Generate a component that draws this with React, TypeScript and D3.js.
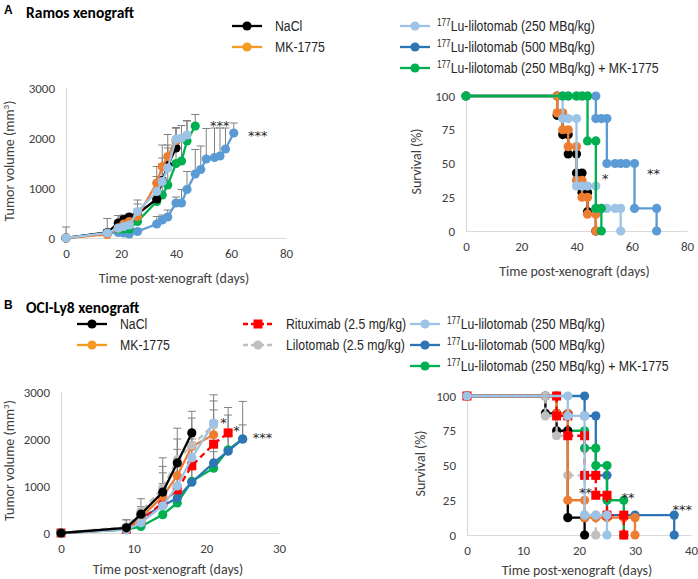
import React, { useEffect, useRef } from 'react';
import * as d3 from 'd3';

// ---- A: Ramos xenograft, tumor volume (mm3) ----
const ramosNaClDays = [0, 15, 19, 21, 23, 26, 33, 35, 37, 40];
const ramosNaCl = [0, 110, 300, 370, 420, 480, 780, 1150, 1450, 1800];
const ramosNaClErr = [220, 280, 150, 90, 60, 200, 450, 450, 620, 400];

const ramosMkDays = [0, 15, 19, 21, 23, 26, 33, 35, 37, 40];
const ramosMk = [0, 70, 200, 280, 330, 430, 1100, 1430, 1630, 1950];
const ramosMkErr = [0, 100, 100, 150, 120, 150, 330, 430, 230, 250];

const ramosLu250Days = [0, 15, 19, 21, 23, 26, 33, 35, 37, 40, 42, 44];
const ramosLu250 = [0, 100, 200, 230, 260, 530, 930, 1130, 1400, 1980, 2000, 2060];
const ramosLu250Err = [0, 60, 250, 200, 200, 230, 300, 350, 400, 230, 250, 290];

const ramosLu500Days = [0, 15, 19, 21, 23, 26, 33, 35, 37, 40, 42, 44, 47, 49, 51, 54, 56, 58, 61];
const ramosLu500 = [0, 100, 110, 100, 80, 130, 280, 360, 420, 700, 700, 970, 1280, 1370, 1580, 1610, 1640, 1780, 2100];
const ramosLu500Err = [0, 50, 60, 60, 60, 60, 150, 100, 140, 120, 270, 360, 490, 470, 610, 590, 560, 420, 200];

const ramosComboDays = [0, 15, 19, 21, 23, 26, 33, 35, 37, 40, 42, 44, 47];
const ramosCombo = [0, 100, 180, 180, 180, 330, 730, 860, 1060, 1490, 1540, 1940, 2240];
const ramosComboErr = [0, 40, 100, 100, 100, 150, 250, 300, 400, 400, 400, 400, 230];

// ---- A: Ramos survival (%) ----
const ramosSurvNaClDays = [0, 33, 33, 35, 35, 37, 37, 40, 40, 42, 42, 44, 44, 47, 47];
const ramosSurvNaCl = [100, 100, 85.7, 85.7, 71.4, 71.4, 57.1, 57.1, 42.9, 42.9, 28.6, 28.6, 14.3, 14.3, 0];
const ramosSurvMkDays = [0, 33, 33, 35, 35, 37, 37, 40, 40, 42, 42, 44, 44, 47, 47];
const ramosSurvMk = [100, 100, 87.5, 87.5, 75, 75, 62.5, 62.5, 37.5, 37.5, 25, 25, 12.5, 12.5, 0];
const ramosSurvLu250Days = [0, 35, 35, 37, 40, 40, 42, 44, 47, 47, 49, 51, 54, 56, 56];
const ramosSurvLu250 = [100, 100, 83.3, 83.3, 83.3, 33.3, 33.3, 33.3, 33.3, 16.7, 16.7, 16.7, 16.7, 16.7, 0];
const ramosSurvLu500Days = [0, 35, 37, 40, 42, 44, 47, 47, 49, 51, 51, 54, 56, 58, 61, 61, 69, 69];
const ramosSurvLu500 = [100, 100, 100, 100, 100, 100, 100, 83.3, 83.3, 83.3, 50, 50, 50, 50, 50, 16.7, 16.7, 0];
const ramosSurvComboDays = [0, 35, 37, 40, 42, 44, 44, 47, 47, 49, 49];
const ramosSurvCombo = [100, 100, 100, 100, 100, 100, 66.7, 66.7, 16.7, 16.7, 0];

// ---- B: OCI-Ly8 xenograft, tumor volume (mm3) ----
const ociDays = [0, 9, 11, 14, 16, 18, 21, 23, 25];
const ociNaCl = [0, 110, 400, 870, 1490, 2130];
const ociNaClErr = [0, 170, 330, 730, 510, 460];
const ociMk = [0, 90, 330, 780, 1220, 1840, 2090];
const ociMkErr = [0, 80, 150, 500, 560, 350, 530];
const ociRitux = [0, 80, 260, 650, 920, 1430, 1890, 2130];
const ociRituxErr = [0, 60, 150, 400, 600, 500, 500, 540];
const ociLilo = [0, 130, 460, 957, 1560, 1865, 2300];
const ociLiloErr = [0, 150, 100, 460, 670, 580, 510];
const ociLu250 = [0, 70, 220, 580, 1000, 1600, 2340];
const ociLu250Err = [0, 60, 150, 300, 450, 400, 600];
const ociLu500 = [0, 100, 320, 580, 745, 1080, 1490, 1740, 2000];
const ociLu500Err = [0, 60, 100, 200, 300, 350, 400, 770, 300];
const ociCombo = [0, 70, 140, 390, 640, 1100, 1380, 1770, 2000];
const ociComboErr = [0, 40, 80, 150, 250, 300, 350, 400, 800];

// ---- B: OCI-Ly8 survival (%) ----
const ociSurvNaClDays = [0, 14, 14, 16, 16, 18, 18, 21, 21];
const ociSurvNaCl = [100, 100, 87.5, 87.5, 75, 75, 12.5, 12.5, 0];
const ociSurvMkDays = [0, 16, 16, 18, 18, 21, 21, 23, 25, 28, 30, 30];
const ociSurvMk = [100, 100, 87.5, 87.5, 25, 25, 12.5, 12.5, 12.5, 12.5, 12.5, 0];
const ociSurvRituxDays = [0, 16, 16, 18, 18, 21, 21, 23, 23, 25, 25, 28, 28];
const ociSurvRitux = [100, 100, 85.7, 85.7, 71.4, 71.4, 42.9, 42.9, 28.6, 28.6, 14.3, 14.3, 0];
const ociSurvLiloDays = [0, 14, 14, 16, 16, 18, 18, 21, 21, 23, 23];
const ociSurvLilo = [100, 100, 85.7, 85.7, 71.4, 71.4, 42.9, 42.9, 14.3, 14.3, 0];
const ociSurvLu250Days = [0, 18, 18, 21, 21, 23, 25, 25];
const ociSurvLu250 = [100, 100, 85.7, 85.7, 14.3, 14.3, 14.3, 0];
const ociSurvLu500Days = [0, 21, 21, 23, 23, 25, 25, 28, 30, 37, 37];
const ociSurvLu500 = [100, 100, 85.7, 85.7, 42.9, 42.9, 14.3, 14.3, 14.3, 14.3, 0];
const ociSurvComboDays = [0, 16, 16, 18, 18, 21, 21, 23, 23, 25, 25, 28, 28];
const ociSurvCombo = [100, 100, 87.5, 87.5, 75, 75, 62.5, 62.5, 50, 50, 25, 25, 0];

// ticks
const growthTicksY = [0, 1000, 2000, 3000];
const survTicksY = [0, 25, 50, 75, 100];
const ramosTicksX = [0, 20, 40, 60, 80];
const ociGrowthTicksX = [0, 10, 20, 30];
const ociSurvTicksX = [0, 10, 20, 30, 40];

// significance marks [label, day, value]
const ramosGrowthStars: [string, number, number][] = [['***', 52.4, 2340], ['***', 66.2, 2140]];
const ramosSurvStars: [string, number, number][] = [['*', 49.2, 42], ['**', 65.5, 45.7]];
const ociGrowthStars: [string, number, number][] = [['*', 21.9, 2453], ['*', 23.7, 2283], ['***', 26.4, 2121]];
const ociSurvStars: [string, number, number][] = [['**', 20, 33.7], ['**', 27.6, 30.5], ['***', 36.7, 21.6]];

const C = {
  black: '#000000', orange: '#ED7D31', orangeLeg: '#F59A23', light: '#9DC3E6',
  blueA: '#5B9BD5', blueB: '#2E75B6', green: '#00B050', red: '#FF0000', grey: '#BFBFBF',
};

const axisFont = "Carlito, Calibri, Lato, 'Open Sans', sans-serif";
const legendFont = "'Liberation Sans', Arial, sans-serif";

type Series = { days: number[]; vals: number[]; err?: number[]; color: string; dash?: string; square?: boolean };

const App = () => {
  const ref = useRef<SVGSVGElement>(null);

  useEffect(() => {
    const svg = d3.select(ref.current);
    svg.selectAll('*').remove();

    function axes(x, y, xTicks, yTicks, xLabel, yLabel, yLabelX, xLabelY) {
      const g = svg.append('g');
      const xa = g.append('g').attr('transform', `translate(0,${y(0)})`)
        .call(d3.axisBottom(x).tickValues(xTicks).tickFormat(d3.format('d')).tickSize(0).tickSizeOuter(0).tickPadding(11));
      const ya = g.append('g').attr('transform', `translate(${x(0)},0)`)
        .call(d3.axisLeft(y).tickValues(yTicks).tickFormat(d3.format('d')).tickSize(0).tickSizeOuter(0).tickPadding(11));
      [xa, ya].forEach(a => {
        a.select('.domain').attr('stroke', '#D9D9D9').attr('stroke-width', 1.2);
        a.selectAll('text').attr('font-family', axisFont).attr('font-size', 13).attr('fill', '#404040');
      });
      const [x0, x1] = x.range();
      const [y0, y1] = y.range();
      g.append('text').attr('x', (x0 + x1) / 2 - 2).attr('y', xLabelY)
        .attr('text-anchor', 'middle').attr('font-family', axisFont).attr('font-size', 14).attr('fill', '#404040')
        .text(xLabel);
      const yl = g.append('text')
        .attr('transform', `translate(${yLabelX},${(y0 + y1) / 2 - 2}) rotate(-90)`)
        .attr('text-anchor', 'middle').attr('font-family', axisFont).attr('font-size', 14).attr('fill', '#404040');
      if (yLabel === 'mm3') {
        yl.append('tspan').text('Tumor volume (mm');
        yl.append('tspan').attr('font-size', 9).attr('dy', -5).text('3');
        yl.append('tspan').attr('dy', 5).text(')');
      } else {
        yl.text(yLabel);
      }
    }

    function marker(g, cx, cy, s: Series) {
      if (s.square) {
        g.append('rect').attr('x', cx - 4.5).attr('y', cy - 4.5).attr('width', 9).attr('height', 9).attr('fill', s.color);
      } else {
        g.append('circle').attr('cx', cx).attr('cy', cy).attr('r', 4.6).attr('fill', s.color);
      }
    }

    function plotSeries(x, y, list: Series[]) {
      const g = svg.append('g');
      // error bars (upper only)
      list.forEach(s => {
        if (!s.err) return;
        s.days.forEach((d, i) => {
          const e = s.err![i];
          if (!e) return;
          const top = y(s.vals[i] + e);
          g.append('line').attr('x1', x(d)).attr('x2', x(d)).attr('y1', y(s.vals[i])).attr('y2', top)
            .attr('stroke', '#808080').attr('stroke-width', 1);
          g.append('line').attr('x1', x(d) - 4).attr('x2', x(d) + 4).attr('y1', top).attr('y2', top)
            .attr('stroke', '#808080').attr('stroke-width', 1);
        });
      });
      list.forEach(s => {
        const pts = s.days.map((d, i) => [d, s.vals[i]] as [number, number]);
        g.append('path')
          .attr('d', d3.line<[number, number]>().x(p => x(p[0])).y(p => y(p[1]))(pts))
          .attr('fill', 'none').attr('stroke', s.color).attr('stroke-width', 2.3)
          .attr('stroke-dasharray', s.dash || null);
        pts.forEach(p => marker(g, x(p[0]), y(p[1]), s));
      });
    }

    function stars(x, y, list: [string, number, number][]) {
      list.forEach(([t, d, v]) => {
        svg.append('text').attr('x', x(d)).attr('y', y(v) + 9)
          .attr('font-family', "'DejaVu Sans', sans-serif").attr('font-size', 13).attr('letter-spacing', 0)
          .attr('fill', '#262626').text(t);
      });
    }

    function legend(items: { x: number; y: number; color: string; label: string; sup?: boolean; dash?: string; square?: boolean }[]) {
      const g = svg.append('g');
      items.forEach(it => {
        g.append('line').attr('x1', it.x).attr('x2', it.x + 30).attr('y1', it.y).attr('y2', it.y)
          .attr('stroke', it.color).attr('stroke-width', 2.3).attr('stroke-dasharray', it.dash || null);
        marker(g, it.x + 15, it.y, { days: [], vals: [], color: it.color, square: it.square });
        // narrow face emulated by horizontal squeeze
        const t = g.append('text')
          .attr('transform', `translate(${it.x + (it.sup ? 37 : 43)},${it.y + 5}) scale(0.82,1)`)
          .attr('font-family', legendFont).attr('font-size', 15).attr('fill', '#262626');
        if (it.sup) {
          t.append('tspan').attr('font-size', 10).attr('dy', -5).text('177');
          t.append('tspan').attr('dy', 5).text(it.label);
        } else {
          t.text(it.label);
        }
      });
    }

    function title(letter: string, name: string, y: number) {
      svg.append('text').attr('x', 4).attr('y', y - 4).attr('font-family', "'Liberation Sans', Arial, sans-serif")
        .attr('font-weight', 'bold').attr('font-size', 12).text(letter);
      svg.append('text').attr('x', 26).attr('y', y).attr('font-family', axisFont)
        .attr('font-weight', 'bold').attr('font-size', 15.5).text(name);
    }

    // ---------- Panel A ----------
    title('A', 'Ramos xenograft', 18);
    legend([
      { x: 232, y: 26, color: C.black, label: 'NaCl' },
      { x: 232, y: 47, color: C.orangeLeg, label: ' MK-1775' },
      { x: 400, y: 26, color: C.light, label: 'Lu-lilotomab (250 MBq/kg)', sup: true },
      { x: 400, y: 47, color: C.blueB, label: 'Lu-lilotomab (500 MBq/kg)', sup: true },
      { x: 400, y: 68, color: C.green, label: 'Lu-lilotomab (250 MBq/kg) + MK-1775', sup: true },
    ]);

    const xA1 = d3.scaleLinear().domain([0, 80]).range([66, 286]);
    const yA1 = d3.scaleLinear().domain([0, 3000]).range([238, 88]);
    axes(xA1, yA1, ramosTicksX, growthTicksY, 'Time post-xenograft (days)', 'mm3', 14, 283);
    plotSeries(xA1, yA1, [
      { days: ramosLu500Days, vals: ramosLu500, err: ramosLu500Err, color: C.blueA },
      { days: ramosComboDays, vals: ramosCombo, err: ramosComboErr, color: C.green },
      { days: ramosNaClDays, vals: ramosNaCl, err: ramosNaClErr, color: C.black },
      { days: ramosMkDays, vals: ramosMk, err: ramosMkErr, color: C.orange },
      { days: ramosLu250Days, vals: ramosLu250, err: ramosLu250Err, color: C.light },
    ]);
    stars(xA1, yA1, ramosGrowthStars);

    const xA2 = d3.scaleLinear().domain([0, 80]).range([466, 687]);
    const yA2 = d3.scaleLinear().domain([0, 100]).range([231, 96]);
    axes(xA2, yA2, ramosTicksX, survTicksY, 'Time post-xenograft (days)', 'Survival (%)', 421, 276);
    plotSeries(xA2, yA2, [
      { days: ramosSurvLu500Days, vals: ramosSurvLu500, color: C.blueA },
      { days: ramosSurvNaClDays, vals: ramosSurvNaCl, color: C.black },
      { days: ramosSurvMkDays, vals: ramosSurvMk, color: C.orange },
      { days: ramosSurvLu250Days, vals: ramosSurvLu250, color: C.light },
      { days: ramosSurvComboDays, vals: ramosSurvCombo, color: C.green },
    ]);
    stars(xA2, yA2, ramosSurvStars);

    // ---------- Panel B ----------
    title('B', 'OCI-Ly8 xenograft', 313);
    legend([
      { x: 77, y: 324, color: C.black, label: 'NaCl' },
      { x: 77, y: 345, color: C.orangeLeg, label: 'MK-1775' },
      { x: 243, y: 324, color: C.red, label: 'Rituximab (2.5 mg/kg)', dash: '5,3', square: true },
      { x: 243, y: 345, color: C.grey, label: 'Lilotomab (2.5 mg/kg)', dash: '5,3' },
      { x: 410, y: 324, color: C.light, label: 'Lu-lilotomab (250 MBq/kg)', sup: true },
      { x: 410, y: 345, color: C.blueB, label: 'Lu-lilotomab (500 MBq/kg)', sup: true },
      { x: 410, y: 366, color: C.green, label: 'Lu-lilotomab (250 MBq/kg) + MK-1775', sup: true },
    ]);

    const xB1 = d3.scaleLinear().domain([0, 30]).range([61, 279]);
    const yB1 = d3.scaleLinear().domain([0, 3000]).range([533, 392]);
    axes(xB1, yB1, ociGrowthTicksX, growthTicksY, 'Time post-xenograft (days)', 'mm3', 14, 574);
    const dd = (n: number) => ociDays.slice(0, n);
    plotSeries(xB1, yB1, [
      { days: dd(ociCombo.length), vals: ociCombo, err: ociComboErr, color: C.green },
      { days: dd(ociLu500.length), vals: ociLu500, err: ociLu500Err, color: C.blueB },
      { days: dd(ociRitux.length), vals: ociRitux, err: ociRituxErr, color: C.red, dash: '6,4', square: true },
      { days: dd(ociMk.length), vals: ociMk, err: ociMkErr, color: C.orange },
      { days: dd(ociLilo.length), vals: ociLilo, err: ociLiloErr, color: C.grey, dash: '6,4' },
      { days: dd(ociLu250.length), vals: ociLu250, err: ociLu250Err, color: C.light },
      { days: dd(ociNaCl.length), vals: ociNaCl, err: ociNaClErr, color: C.black },
    ]);
    stars(xB1, yB1, ociGrowthStars);

    const xB2 = d3.scaleLinear().domain([0, 40]).range([467, 691]);
    const yB2 = d3.scaleLinear().domain([0, 100]).range([535, 396]);
    axes(xB2, yB2, ociSurvTicksX, survTicksY, 'Time post-xenograft (days)', 'Survival (%)', 425, 575);
    plotSeries(xB2, yB2, [
      { days: ociSurvLu500Days, vals: ociSurvLu500, color: C.blueB },
      { days: ociSurvComboDays, vals: ociSurvCombo, color: C.green },
      { days: ociSurvNaClDays, vals: ociSurvNaCl, color: C.black },
      { days: ociSurvLiloDays, vals: ociSurvLilo, color: C.grey, dash: '6,4' },
      { days: ociSurvMkDays, vals: ociSurvMk, color: C.orange },
      { days: ociSurvRituxDays, vals: ociSurvRitux, color: C.red, dash: '6,4', square: true },
      { days: ociSurvLu250Days, vals: ociSurvLu250, color: C.light },
    ]);
    stars(xB2, yB2, ociSurvStars);
  }, []);

  return (
    <svg ref={ref} width={698} height={579}
      style={{ position: 'absolute', left: 0, top: 0, background: '#ffffff' }} />
  );
};

export default App;
